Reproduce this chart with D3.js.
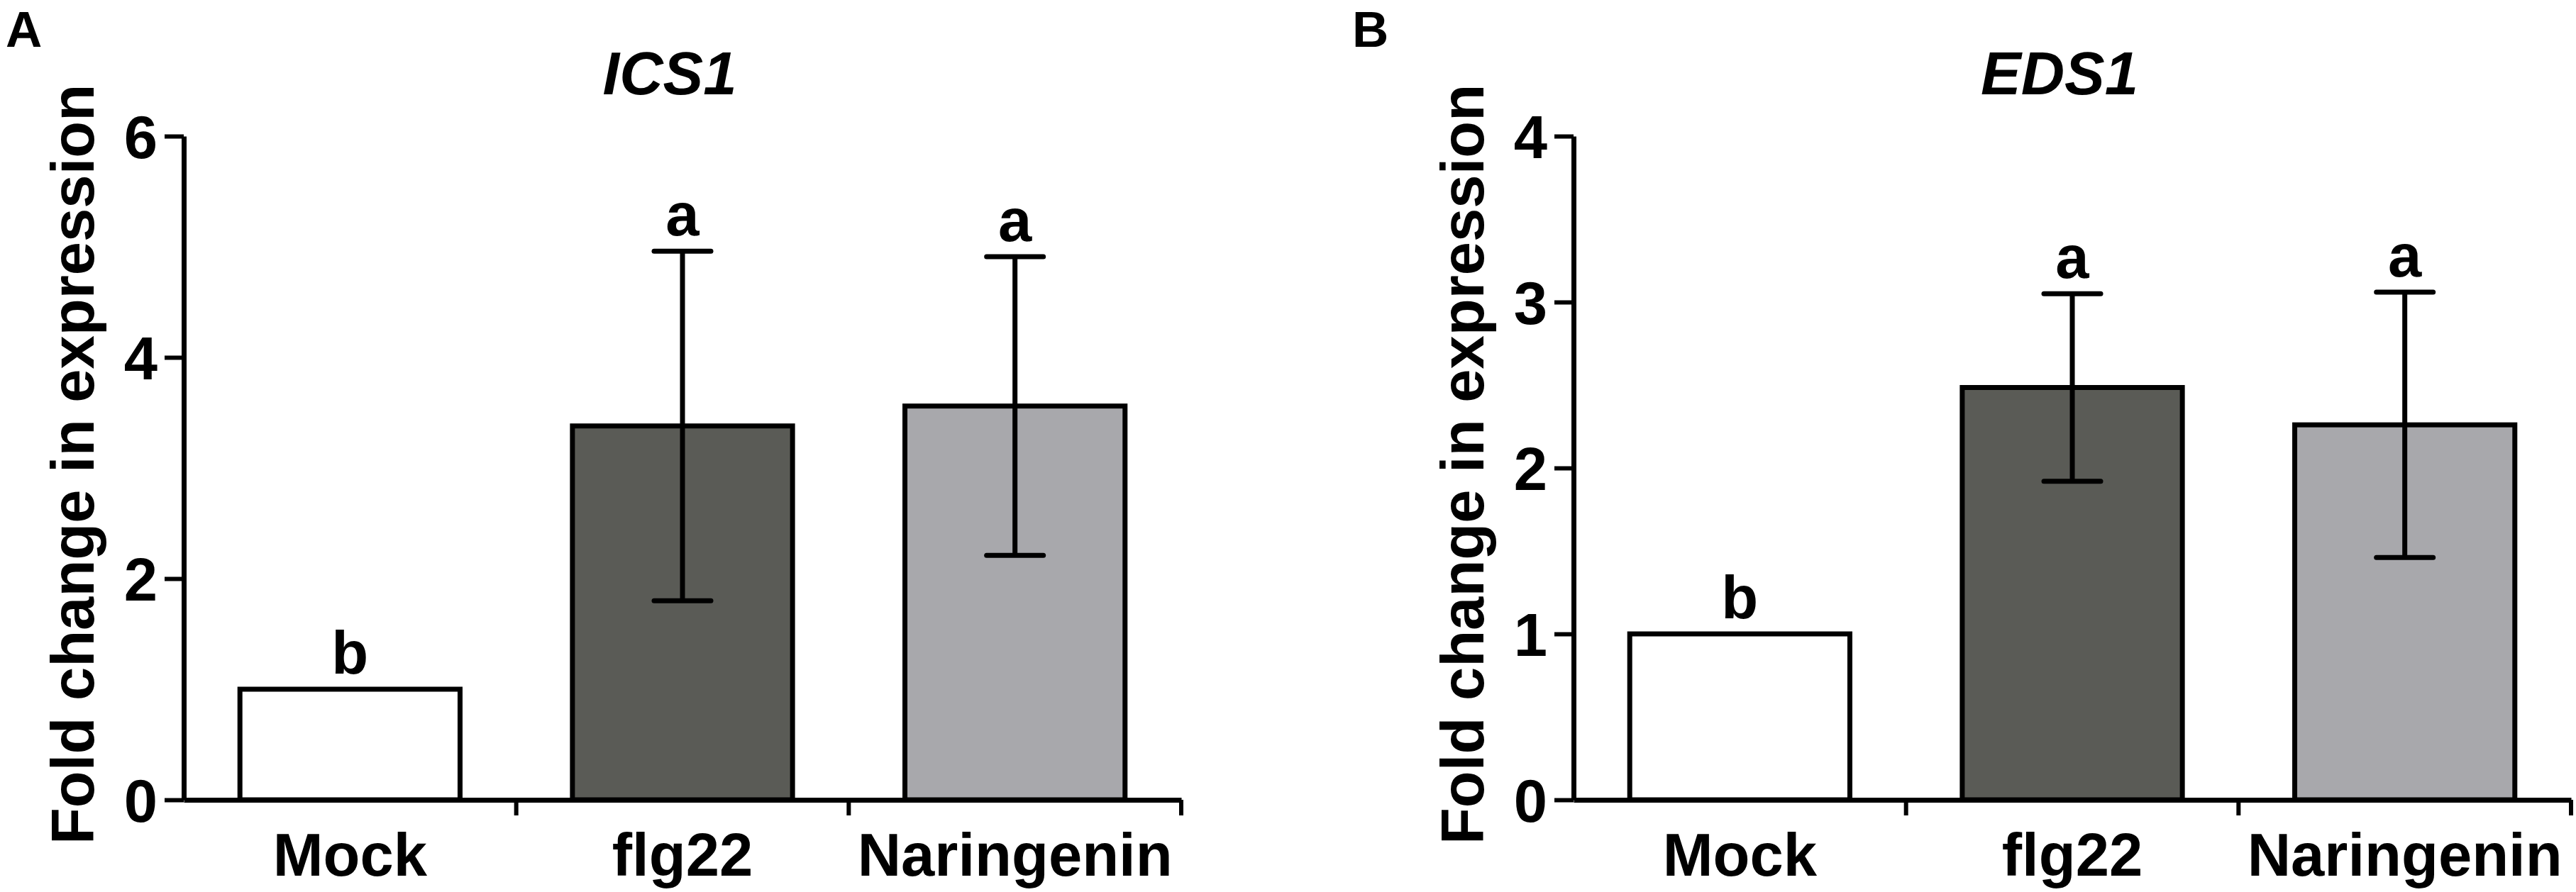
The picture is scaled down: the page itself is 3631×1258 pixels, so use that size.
<!DOCTYPE html>
<html>
<head>
<meta charset="utf-8">
<script src="https://cdn.jsdelivr.net/npm/d3@7"></script>
<style>
  html, body { margin: 0; padding: 0; background: #fff; }
  svg text { font-family: "Liberation Sans", Arial, sans-serif; font-weight: bold; fill: #000; }
</style>
</head>
<body>
<svg id="chart"></svg>
<script>
const categories = ['Mock', 'flg22', 'Naringenin'];
const barColors = ['#ffffff', '#5a5b56', '#a8a8ac'];

const ics1Means = [1.0, 3.38, 3.56];
const ics1Errors = [0, 1.58, 1.35];
const ics1Letters = ['b', 'a', 'a'];
const ics1Ticks = [0, 2, 4, 6];

const eds1Means = [1.0, 2.485, 2.26];
const eds1Errors = [0, 0.565, 0.80];
const eds1Letters = ['b', 'a', 'a'];
const eds1Ticks = [0, 1, 2, 3, 4];

(() => {
  const width = 3631;
  const height = 1258;
  const fontSize = 85;

  const svg = d3.select('svg#chart')
    .attr('width', width)
    .attr('height', height);

  const renderPanel = (opts) => {
    const { left, panelLabel, labelX, title, means, errors, letters, ticks } = opts;
    const plotW = 1406;
    const top = 192;
    const bottom = 1128;

    const g = svg.append('g');

    const xScale = d3.scaleBand()
      .domain(categories)
      .range([left, left + plotW])
      .padding(0);

    const yScale = d3.scaleLinear()
      .domain([0, d3.max(ticks)])
      .range([bottom, top]);

    const barW = xScale.bandwidth() * 0.662;

    // panel letter
    g.append('text')
      .attr('x', labelX)
      .attr('y', 66)
      .style('font-size', '71px')
      .text(panelLabel);

    // title
    g.append('text')
      .attr('x', left + plotW / 2 - 18)
      .attr('y', 133)
      .attr('text-anchor', 'middle')
      .style('font-size', fontSize + 'px')
      .style('font-style', 'italic')
      .text(title);

    // y label
    g.append('text')
      .attr('transform', `translate(${left - 127},${(top + bottom) / 2 - 5}) rotate(-90)`)
      .attr('text-anchor', 'middle')
      .style('font-size', fontSize + 'px')
      .text('Fold change in expression');

    // bars
    g.selectAll('rect.bar')
      .data(categories)
      .enter()
      .append('rect')
      .attr('class', 'bar')
      .attr('x', d => xScale(d) + (xScale.bandwidth() - barW) / 2)
      .attr('width', barW)
      .attr('y', (d, i) => yScale(means[i]))
      .attr('height', (d, i) => yScale(0) - yScale(means[i]))
      .attr('fill', (d, i) => barColors[i])
      .attr('stroke', '#000')
      .attr('stroke-width', 7);

    // error bars
    const errData = categories.map((c, i) => ({ c, m: means[i], e: errors[i] })).filter(d => d.e > 0);
    const cx = d => xScale(d.c) + xScale.bandwidth() / 2;

    g.selectAll('line.err')
      .data(errData)
      .enter()
      .append('line')
      .attr('class', 'err')
      .attr('x1', cx)
      .attr('x2', cx)
      .attr('y1', d => yScale(d.m - d.e))
      .attr('y2', d => yScale(d.m + d.e))
      .attr('stroke', '#000')
      .attr('stroke-width', 7);

    [1, -1].forEach((sign, k) => {
      g.selectAll(`line.cap${k}`)
        .data(errData)
        .enter()
        .append('line')
        .attr('class', `cap${k}`)
        .attr('x1', d => cx(d) - 40)
        .attr('x2', d => cx(d) + 40)
        .attr('y1', d => yScale(d.m + sign * d.e))
        .attr('y2', d => yScale(d.m + sign * d.e))
        .attr('stroke', '#000')
        .attr('stroke-width', 7)
        .attr('stroke-linecap', 'round');
    });

    // significance letters
    g.selectAll('text.sig')
      .data(categories)
      .enter()
      .append('text')
      .attr('class', 'sig')
      .attr('x', d => xScale(d) + xScale.bandwidth() / 2)
      .attr('y', (d, i) => yScale(means[i] + errors[i]) - 22)
      .attr('text-anchor', 'middle')
      .style('font-size', fontSize + 'px')
      .text((d, i) => letters[i]);

    // y axis
    const yAxis = g.append('g')
      .attr('transform', `translate(${left},0)`)
      .call(d3.axisLeft(yScale).tickValues(ticks).tickFormat(d3.format('d')).tickSize(27).tickPadding(10).tickSizeOuter(0));
    yAxis.selectAll('text')
      .style('font-size', fontSize + 'px')
      .style('font-family', '"Liberation Sans", Arial, sans-serif')
      .attr('dy', '0.36em');

    // x axis
    const xAxis = g.append('g')
      .attr('transform', `translate(0,${bottom})`)
      .call(d3.axisBottom(xScale).tickSize(0).tickSizeOuter(0));
    xAxis.selectAll('text')
      .style('font-size', fontSize + 'px')
      .style('font-family', '"Liberation Sans", Arial, sans-serif')
      .attr('y', 107)
      .attr('dy', 0);

    // tick marks at band boundaries
    xAxis.selectAll('line.bound')
      .data(categories)
      .enter()
      .append('line')
      .attr('class', 'bound')
      .attr('x1', d => xScale(d) + xScale.bandwidth())
      .attr('x2', d => xScale(d) + xScale.bandwidth())
      .attr('y1', 0)
      .attr('y2', 22)
      .attr('stroke', '#000')
      .attr('stroke-width', 6);

    [yAxis, xAxis].forEach(a => {
      a.select('.domain').attr('stroke', '#000').attr('stroke-width', 7);
      a.selectAll('.tick line').attr('stroke', '#000').attr('stroke-width', 6);
    });
  };

  renderPanel({
    left: 259, panelLabel: 'A', labelX: 8, title: 'ICS1',
    means: ics1Means, errors: ics1Errors, letters: ics1Letters, ticks: ics1Ticks
  });

  renderPanel({
    left: 2218, panelLabel: 'B', labelX: 1906, title: 'EDS1',
    means: eds1Means, errors: eds1Errors, letters: eds1Letters, ticks: eds1Ticks
  });
})();
</script>
</body>
</html>
